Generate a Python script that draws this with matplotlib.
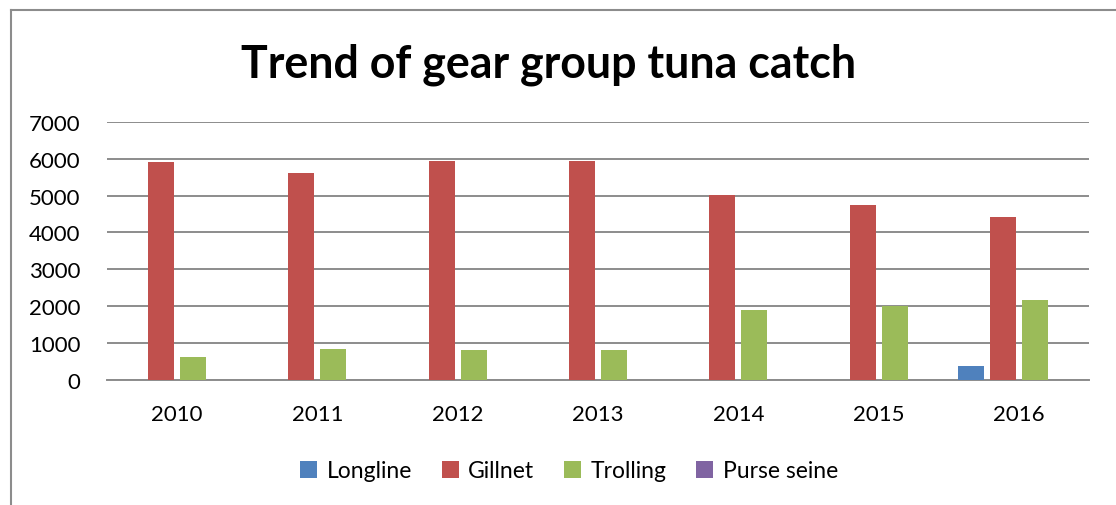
import numpy as np
import matplotlib
matplotlib.use("Agg")
import matplotlib.pyplot as plt
from matplotlib.lines import Line2D

plt.rcParams['font.family'] = ['Lato', 'DejaVu Sans']

years = ['2010', '2011', '2012', '2013', '2014', '2015', '2016']
longline = [0, 0, 0, 0, 0, 0, 370]
gillnet = [5920, 5610, 5940, 5940, 5010, 4730, 4420]
trolling = [620, 840, 800, 800, 1910, 2000, 2180]
purse_seine = [0, 0, 0, 0, 0, 0, 0]

series_names = ['Longline', 'Gillnet', 'Trolling', 'Purse seine']
colors = ['#4F81BD', '#C0504D', '#9BBB59', '#8064A2']


def main():
    fig = plt.figure(figsize=(11.16, 5.06), dpi=100)
    ax = fig.add_axes([0.0959, 0.247, 0.88, 0.5105])

    x = np.arange(len(years))
    pitch = 0.228
    width = 0.185
    for i, (vals, col) in enumerate(zip([longline, gillnet, trolling, purse_seine], colors)):
        ax.bar(x + (i - 1.5) * pitch, vals, width, color=col, label=series_names[i], zorder=3)

    ax.set_xlim(-0.5, len(years) - 0.5)
    ax.set_ylim(0, 7000)
    ax.set_yticks(range(0, 7001, 1000))
    ax.set_xticks(x)
    ax.set_xticklabels(years)
    ax.yaxis.grid(True, color='#8c8c8c', linewidth=1.4, zorder=0)
    ax.set_axisbelow(True)
    for s in ['top', 'right', 'left']:
        ax.spines[s].set_visible(False)
    ax.spines['bottom'].set_color('#8c8c8c')
    ax.spines['bottom'].set_linewidth(1.4)
    ax.tick_params(axis='y', length=0, pad=19, labelsize=16)
    ax.tick_params(axis='x', length=0, pad=17, labelsize=16)

    fig.text(0.4915, 1 - 78 / 506, 'Trend of gear group tuna catch', ha='center',
             va='baseline', fontsize=32.2, fontweight='bold')

    handles, labels = ax.get_legend_handles_labels()
    fig.legend(handles, labels, loc='center', bbox_to_anchor=(569 / 1116, 1 - 472 / 506),
               ncol=4, frameon=False, fontsize=16.5, handlelength=0.75, handleheight=0.75,
               handletextpad=0.4, columnspacing=1.3)

    # chart frame (top and left edges visible)
    fig.add_artist(Line2D([11 / 1116, 1.0], [1 - 11 / 506] * 2, color='#8c8c8c', lw=1.5,
                          transform=fig.transFigure))
    fig.add_artist(Line2D([11 / 1116] * 2, [0, 1 - 11 / 506], color='#8c8c8c', lw=1.5,
                          transform=fig.transFigure))

    fig.savefig('out.png', dpi=100)


if __name__ == '__main__':
    main()
